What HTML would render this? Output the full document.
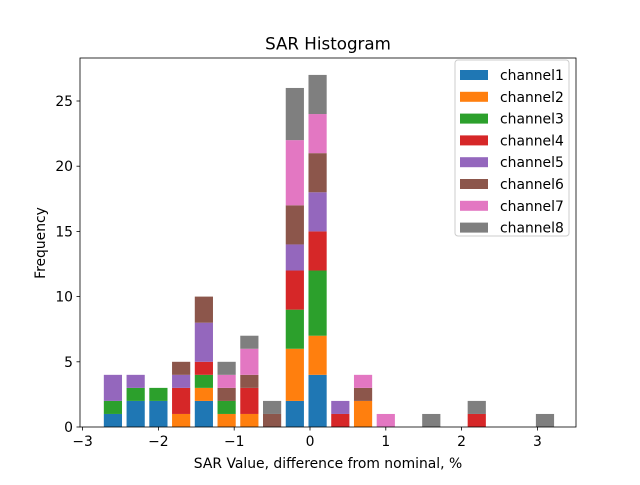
<!DOCTYPE html>
<html><head><meta charset="utf-8"><style>
body{margin:0;background:#fff;font-family:"Liberation Sans","DejaVu Sans",sans-serif}
svg text{font-family:"DejaVu Sans","Liberation Sans",sans-serif}
</style></head><body>
<svg id="chart" width="640" height="480" xmlns="http://www.w3.org/2000/svg">
<rect width="640" height="480" fill="#fff"/>
<text x="328" y="49.5" font-size="16.7" text-anchor="middle">SAR Histogram</text>
<g id="bars"></g>
<rect x="80" y="58" width="496" height="369" fill="none" stroke="#000" stroke-width="0.8"/>
<g id="axes"></g>
<text x="328" y="468" font-size="13.9" text-anchor="middle">SAR Value, difference from nominal, %</text>
<text transform="translate(45,243) rotate(-90)" font-size="13.9" text-anchor="middle">Frequency</text>
<g id="legend"></g>
</svg>
<script>
const binCenters=[-2.6,-2.3,-2.0,-1.7,-1.4,-1.1,-0.8,-0.5,-0.2,0.1,0.4,0.7,1.0,1.3,1.6,1.9,2.2,2.5,2.8,3.1];
const channelNames=["channel1","channel2","channel3","channel4","channel5","channel6","channel7","channel8"];
const ch1=[1,2,2,0,2,0,0,0,2,4,0,0,0,0,0,0,0,0,0,0];
const ch2=[0,0,0,1,1,1,1,0,4,3,0,2,0,0,0,0,0,0,0,0];
const ch3=[1,1,1,0,1,1,0,0,3,5,0,0,0,0,0,0,0,0,0,0];
const ch4=[0,0,0,2,1,0,2,0,3,3,1,0,0,0,0,0,1,0,0,0];
const ch5=[2,1,0,1,3,0,0,0,2,3,1,0,0,0,0,0,0,0,0,0];
const ch6=[0,0,0,1,2,1,1,1,3,3,0,1,0,0,0,0,0,0,0,0];
const ch7=[0,0,0,0,0,1,2,0,5,3,0,1,1,0,0,0,0,0,0,0];
const ch8=[0,0,0,0,0,1,1,1,4,3,0,0,0,0,1,0,1,0,0,1];
const series=[ch1,ch2,ch3,ch4,ch5,ch6,ch7,ch8];
const colors=["#1f77b4","#ff7f0e","#2ca02c","#d62728","#9467bd","#8c564b","#e377c2","#7f7f7f"];
const xTicks=[-3,-2,-1,0,1,2,3];
const xTickLabels=["\u22123","\u22122","\u22121","0","1","2","3"];
const yTicks=[0,5,10,15,20,25];
const binWidth=0.3;
const NS="http://www.w3.org/2000/svg";
const X=v=>310+v*75.8;
const Y=v=>427-v*13.04;
const bars=document.getElementById('bars');
const cum=binCenters.map(()=>0);
series.forEach((s,si)=>{
  s.forEach((v,i)=>{
    if(v<=0)return;
    const r=document.createElementNS(NS,'rect');
    const x0=X(binCenters[i]-binWidth*0.4), x1=X(binCenters[i]+binWidth*0.4);
    r.setAttribute('x',x0);r.setAttribute('width',x1-x0);
    r.setAttribute('y',Y(cum[i]+v));r.setAttribute('height',Y(cum[i])-Y(cum[i]+v));
    r.setAttribute('fill',colors[si]);
    
    
    bars.appendChild(r);
    cum[i]+=v;
  });
});
const axes=document.getElementById('axes');
xTicks.forEach((t,i)=>{
  const l=document.createElementNS(NS,'line');
  l.setAttribute('x1',X(t));l.setAttribute('x2',X(t));l.setAttribute('y1',427);l.setAttribute('y2',430.5);
  l.setAttribute('stroke','#000');l.setAttribute('stroke-width','0.8');
  
  
  axes.appendChild(l);
  const tx=document.createElementNS(NS,'text');
  tx.setAttribute('x',X(t));tx.setAttribute('y',446);tx.setAttribute('font-size','13.9');tx.setAttribute('text-anchor','middle');
  tx.textContent=xTickLabels[i];
  
  
  axes.appendChild(tx);
});
yTicks.forEach(t=>{
  const l=document.createElementNS(NS,'line');
  l.setAttribute('x1',76.5);l.setAttribute('x2',80);l.setAttribute('y1',Y(t));l.setAttribute('y2',Y(t));
  l.setAttribute('stroke','#000');l.setAttribute('stroke-width','0.8');
  
  
  axes.appendChild(l);
  const tx=document.createElementNS(NS,'text');
  tx.setAttribute('x',73);tx.setAttribute('y',Y(t)+5);tx.setAttribute('font-size','13.9');tx.setAttribute('text-anchor','end');
  tx.textContent=t;
  
  
  axes.appendChild(tx);
});
const lg=document.getElementById('legend');
const box=document.createElementNS(NS,'rect');
box.setAttribute('x',455);box.setAttribute('y',60);box.setAttribute('width',114);box.setAttribute('height',176);box.setAttribute('rx',3);
box.setAttribute('fill','#fff');box.setAttribute('fill-opacity','0.8');box.setAttribute('stroke','#ccc');


lg.appendChild(box);
channelNames.forEach((n,i)=>{
  const y=75+i*21.8;
  const r=document.createElementNS(NS,'rect');
  r.setAttribute('x',460);r.setAttribute('y',y-5);r.setAttribute('width',28);r.setAttribute('height',10);r.setAttribute('fill',colors[i]);
  
  
  lg.appendChild(r);
  const t=document.createElementNS(NS,'text');
  t.setAttribute('x',500);t.setAttribute('y',y+5);t.setAttribute('font-size','13.9');t.textContent=n;
  
  
  lg.appendChild(t);
});
</script>
</body></html>
